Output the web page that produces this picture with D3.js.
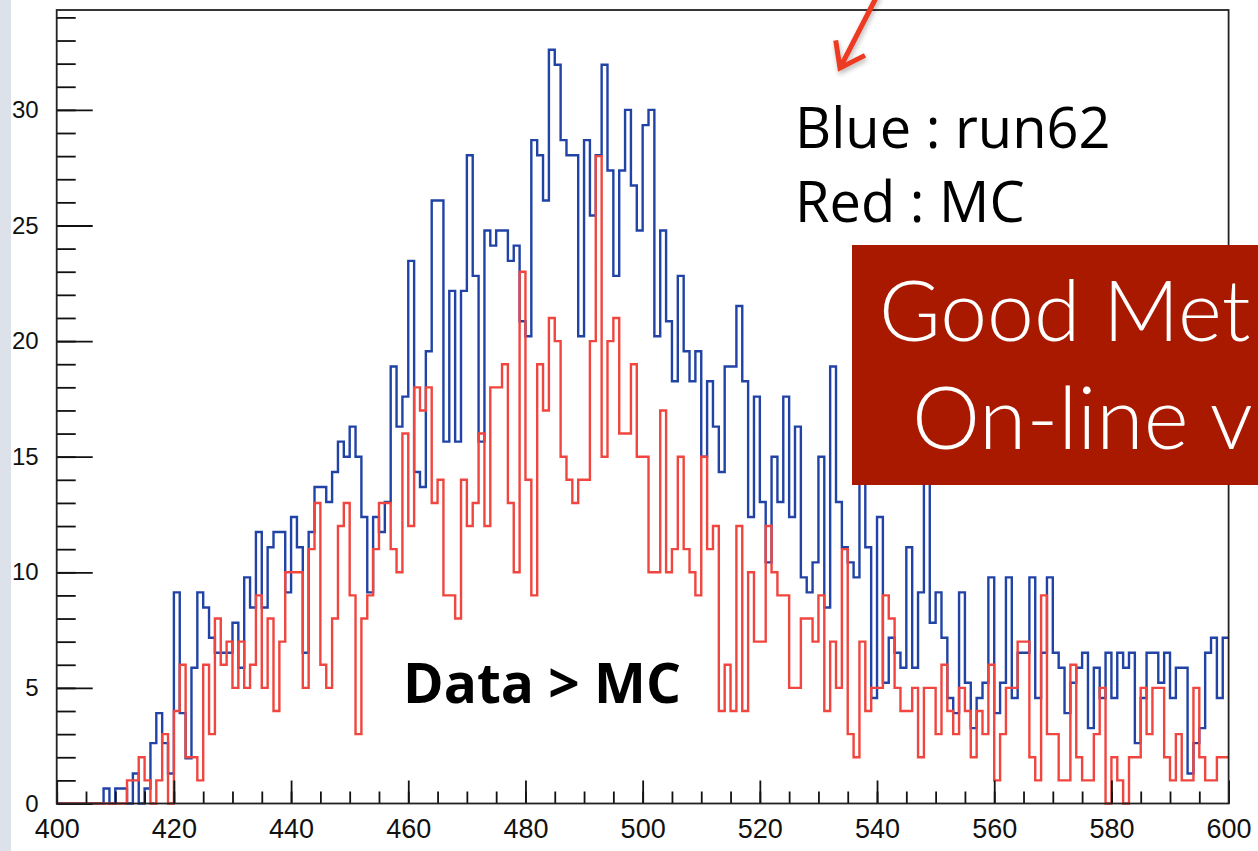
<!DOCTYPE html>
<html>
<head>
<meta charset="utf-8">
<script src="https://cdn.jsdelivr.net/npm/d3@7"></script>
<style>
  html, body { margin: 0; padding: 0; background: #fff; overflow: hidden; }
  svg { display: block; }
</style>
</head>
<body>
<svg id="chart" width="1258" height="851"></svg>
<script>
// Histogram binning: 200 bins of width 1 between 400 and 600
const xMin = 400;
const xMax = 600;
const binWidth = 1;

// run62 (data), scaled counts per bin, 400 .. 599
const blue = [
  0, 0, 0, 0, 0, 0, 0, 0, 0.65, 0,
  0.65, 0.65, 0, 1.30, 0, 0.65, 2.61, 3.91, 2.61, 1.30,
  9.13, 3.91, 1.96, 5.87, 9.13, 8.48, 7.17, 6.52, 6.52, 6.52,
  7.82, 5.87, 9.78, 8.48, 11.74, 8.48, 11.08, 11.74, 11.74, 9.13,
  12.39, 11.08, 6.52, 11.74, 13.69, 13.69, 13.04, 14.34, 15.65, 15.0,
  16.3, 15.0, 12.39, 9.13, 12.39, 11.74, 13.04, 18.9, 16.3, 17.6,
  23.47, 14.34, 13.69, 19.56, 26.08, 26.08, 15.65, 22.17, 15.65, 22.17,
  28.04, 22.82, 15.65, 24.78, 24.13, 24.78, 24.78, 23.47, 24.13, 20.86,
  20.21, 28.69, 28.04, 26.08, 32.6, 31.95, 28.69, 28.04, 28.04, 20.21,
  28.69, 25.43, 28.04, 31.95, 27.38, 22.82, 27.38, 30.0, 26.73, 24.78,
  29.34, 30.0, 20.21, 24.78, 20.86, 18.26, 22.82, 19.56, 18.26, 19.56,
  15.0, 18.26, 16.3, 14.34, 18.9, 18.9, 21.52, 18.26, 12.39, 17.6,
  13.04, 10.43, 15.0, 13.04, 17.6, 12.39, 16.3, 9.78, 9.13, 10.43,
  15.0, 8.48, 18.9, 13.04, 11.08, 10.43, 9.78, 15.0, 11.08, 4.56,
  12.39, 5.22, 7.17, 6.52, 5.87, 11.08, 5.87, 9.13, 14.34, 7.82,
  9.13, 7.17, 4.56, 3.91, 9.13, 5.22, 3.26, 4.56, 5.22, 9.78,
  3.91, 5.22, 9.78, 4.56, 6.52, 6.52, 9.78, 4.56, 6.52, 9.78,
  6.52, 5.87, 3.91, 5.22, 5.87, 6.52, 3.26, 5.87, 4.56, 6.52,
  4.56, 6.52, 5.87, 6.52, 2.61, 4.56, 6.52, 6.52, 5.22, 6.52,
  4.56, 5.87, 5.87, 1.30, 2.61, 3.26, 6.52, 7.17, 4.56, 7.17
];

// MC, counts per bin, 400 .. 599
const red = [
  0, 0, 0, 0, 0, 0, 0, 0, 0, 0,
  0, 0, 1, 1, 2, 1, 0, 1, 3, 0,
  4, 6, 2, 2, 1, 6, 3, 8, 6, 7,
  5, 7, 5, 6, 9, 5, 8, 4, 7, 10,
  10, 10, 5, 11, 13, 6, 5, 8, 12, 13,
  9, 3, 8, 9, 11, 13, 13, 11, 10, 16,
  12, 18, 17, 18, 13, 14, 9, 9, 8, 14,
  12, 13, 16, 12, 18, 18, 19, 13, 10, 23,
  14, 9, 19, 17, 21, 20, 15, 14, 13, 14,
  14, 20, 28, 15, 20, 21, 16, 16, 19, 15,
  15, 10, 10, 17, 10, 11, 15, 11, 10, 9,
  15, 11, 12, 4, 6, 4, 12, 4, 10, 7,
  7, 12, 10, 9, 9, 5, 5, 8, 8, 7,
  9, 4, 7, 5, 11, 3, 2, 7, 4, 5,
  5, 9, 8, 5, 4, 4, 5, 2, 5, 5,
  3, 6, 4, 3, 5, 4, 2, 4, 3, 6,
  1, 3, 5, 5, 7, 7, 2, 1, 9, 3,
  3, 1, 1, 6, 2, 1, 1, 3, 5, 0,
  2, 1, 0, 2, 2, 5, 3, 5, 5, 2,
  1, 3, 1, 1, 5, 2, 1, 1, 2, 2
];

// Axis ticks and labels
const xMajorTicks = [400, 420, 440, 460, 480, 500, 520, 540, 560, 580, 600];
const xTickLabels = ["400", "420", "440", "460", "480", "500", "520", "540", "560", "580", "600"];
const xMinorStep = 5;
const yMajorTicks = [0, 5, 10, 15, 20, 25, 30];
const yTickLabels = ["0", "5", "10", "15", "20", "25", "30"];
const yMinorStep = 1;
const yTop = 34.32;

const svg = d3.select("#chart");
const W = 1258, H = 851;

// Frame of the pad
const frame = { left: 56.7, right: 1228.6, top: 10, bottom: 803.5 };

const x = d3.scaleLinear().domain([xMin, xMax]).range([frame.left, frame.right]);
const y = d3.scaleLinear().domain([0, yTop]).range([frame.bottom, frame.top]);

// Pale strip on the left edge of the slide
svg.append("rect").attr("x", 0).attr("y", 0).attr("width", 11).attr("height", H)
  .attr("fill", "#dde2ea");

const defs = svg.append("defs");
const shadow = defs.append("filter").attr("id", "soft-shadow")
  .attr("x", "-10%").attr("y", "-100%").attr("width", "130%").attr("height", "400%");
shadow.append("feDropShadow").attr("dx", 1).attr("dy", 3).attr("stdDeviation", 2.5)
  .attr("flood-color", "#000").attr("flood-opacity", 0.28);

// Step outline of a histogram, starting at the first bin's content
function stepPath(values) {
  const pts = [];
  values.forEach((v, i) => {
    const x0 = xMin + i * binWidth;
    pts.push([x(x0), y(v)]);
    pts.push([x(x0 + binWidth), y(v)]);
  });
  return d3.line()(pts);
}

const plot = svg.append("g");
plot.append("path").attr("d", stepPath(blue))
  .attr("fill", "none").attr("stroke", "#2243a6").attr("stroke-width", 2.4)
  .attr("stroke-linejoin", "miter");
plot.append("path").attr("d", stepPath(red))
  .attr("fill", "none").attr("stroke", "#f0463f").attr("stroke-width", 2.4)
  .attr("stroke-linejoin", "miter");

// Axes with inward ticks
const axisFont = "'Liberation Sans', Arial, Helvetica, sans-serif";
const xMinor = d3.range(xMin, xMax + 0.001, xMinorStep);
const gxMinor = svg.append("g").attr("transform", `translate(0,${frame.bottom})`)
  .call(d3.axisBottom(x).tickValues(xMinor).tickSize(-12).tickFormat(""));
const gx = svg.append("g").attr("transform", `translate(0,${frame.bottom})`)
  .call(d3.axisBottom(x).tickValues(xMajorTicks).tickSize(-23).tickPadding(15)
    .tickFormat((d, i) => xTickLabels[i]));

const yMinor = d3.range(0, Math.floor(yTop) + 0.001, yMinorStep);
const gyMinor = svg.append("g").attr("transform", `translate(${frame.left},0)`)
  .call(d3.axisLeft(y).tickValues(yMinor).tickSize(-19).tickFormat(""));
const gy = svg.append("g").attr("transform", `translate(${frame.left},0)`)
  .call(d3.axisLeft(y).tickValues(yMajorTicks).tickSize(-36).tickPadding(18)
    .tickFormat((d, i) => yTickLabels[i]));

[gxMinor, gx, gyMinor, gy].forEach(g => {
  g.select(".domain").remove();
  g.selectAll(".tick line").attr("stroke", "#111").attr("stroke-width", 1.8);
});
gx.selectAll("text").attr("font-family", axisFont).attr("font-size", 27).attr("fill", "#111");
gy.selectAll("text").attr("font-family", axisFont).attr("font-size", 24).attr("fill", "#111");

// Pad frame
svg.append("rect")
  .attr("x", frame.left).attr("y", frame.top)
  .attr("width", frame.right - frame.left).attr("height", frame.bottom - frame.top)
  .attr("fill", "none").attr("stroke", "#222").attr("stroke-width", 1.8);

// Legend text
const textFont = "'Open Sans', 'Noto Sans', sans-serif";
svg.append("text").attr("x", 795).attr("y", 148)
  .attr("font-family", textFont).attr("font-size", 56).attr("fill", "#000")
  .text("Blue : run62");
svg.append("text").attr("x", 795).attr("y", 222)
  .attr("font-family", textFont).attr("font-size", 56).attr("fill", "#000")
  .text("Red : MC");

svg.append("text").attr("x", 403).attr("y", 703)
  .attr("font-family", textFont).attr("font-weight", 700).attr("font-size", 55).attr("fill", "#000")
  .text("Data > MC");

// Red arrow pointing down-left toward the legend
const arrowTail = [878, -6], arrowTip = [840, 68];
const dir = [arrowTail[0] - arrowTip[0], arrowTail[1] - arrowTip[1]];
const len = Math.hypot(dir[0], dir[1]);
const u = [dir[0] / len, dir[1] / len];
const rot = (v, a) => [v[0] * Math.cos(a) - v[1] * Math.sin(a), v[0] * Math.sin(a) + v[1] * Math.cos(a)];
const barbLen = 28, barbAngle = 36 * Math.PI / 180;
const b1 = rot(u, barbAngle), b2 = rot(u, -barbAngle);
const arrow = svg.append("g").attr("filter", "url(#soft-shadow)");
arrow.append("path")
  .attr("d", `M${arrowTail[0]},${arrowTail[1]} L${arrowTip[0]},${arrowTip[1]}`)
  .attr("stroke", "#ec3a22").attr("stroke-width", 5).attr("fill", "none");
arrow.append("path")
  .attr("d", `M${arrowTip[0] + b1[0] * barbLen},${arrowTip[1] + b1[1] * barbLen} L${arrowTip[0]},${arrowTip[1]} L${arrowTip[0] + b2[0] * barbLen},${arrowTip[1] + b2[1] * barbLen}`)
  .attr("stroke", "#ec3a22").attr("stroke-width", 5).attr("fill", "none")
  .attr("stroke-linejoin", "miter");

// Title banner, running off the right edge of the slide
svg.append("rect").attr("x", 852).attr("y", 245).attr("width", 420).attr("height", 240)
  .attr("fill", "#a81900");
const bannerFont = "Lato, 'Open Sans', sans-serif";
svg.append("text").attr("x", 879).attr("y", 341)
  .attr("font-family", bannerFont).attr("font-weight", 300).attr("font-size", 84).attr("fill", "#fff")
  .text("Good Met");
svg.append("text").attr("x", 912).attr("y", 449)
  .attr("font-family", bannerFont).attr("font-weight", 300).attr("font-size", 86).attr("fill", "#fff")
  .text("On-line v");

// Separator rule at the right
svg.append("line").attr("x1", 1144).attr("x2", 1270).attr("y1", 548).attr("y2", 548)
  .attr("stroke", "#6a9dd2").attr("stroke-width", 4.5).attr("filter", "url(#soft-shadow)");
</script>
</body>
</html>
